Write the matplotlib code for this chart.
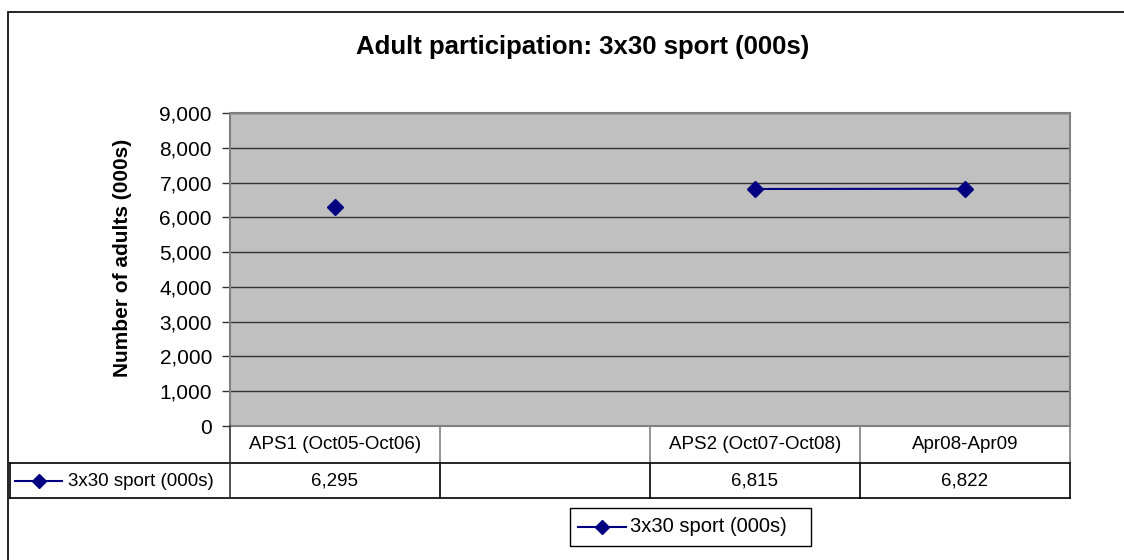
import numpy as np
import matplotlib
matplotlib.use("Agg")
import matplotlib.pyplot as plt
from matplotlib.lines import Line2D
from matplotlib.patches import Rectangle

plt.rcParams['font.family'] = ['Liberation Sans', 'DejaVu Sans']

# dane
categories = ["APS1 (Oct05-Oct06)", "", "APS2 (Oct07-Oct08)", "Apr08-Apr09"]
values = [6295, np.nan, 6815, 6822]
value_labels = ["6,295", "", "6,815", "6,822"]
series_name = "3x30 sport (000s)"
yticks = np.arange(0, 9001, 1000)

W, H = 1124, 560
fig = plt.figure(figsize=(W / 100, H / 100), dpi=100)

def fx(px):
    return px / W

def fy(py):
    return 1 - py / H

# ramka wykresu
fig.patches.append(Rectangle((fx(8), fy(600)), fx(1140) - fx(8), fy(12) - fy(600),
                             transform=fig.transFigure, fill=False,
                             edgecolor="black", linewidth=1.2))

left, right, top, bottom = 230, 1070, 113, 426
ax = fig.add_axes([fx(left), fy(bottom), fx(right) - fx(left), fy(top) - fy(bottom)])
ax.set_facecolor("#C0C0C0")

x = np.arange(len(categories))
ax.plot(x, values, color="#000080", linewidth=1.5, marker="D", markersize=8,
        markerfacecolor="#000080", markeredgecolor="#000080", zorder=3)

ax.set_xlim(-0.5, len(categories) - 0.5)
ax.set_ylim(0, 9000)
ax.set_yticks(yticks)
ax.set_yticklabels([f"{v:,}" for v in yticks], fontsize=15)
ax.set_xticks([])
ax.yaxis.grid(True, color="#333333", linewidth=1)
ax.set_axisbelow(True)
ax.tick_params(axis="y", direction="out", length=6, width=1, color="#333333", pad=7)
for s in ax.spines.values():
    s.set_color("#808080")
    s.set_linewidth(1.5)

fig.text(fx(583), fy(47), "Adult participation: 3x30 sport (000s)", ha="center", va="center",
         fontsize=18.5, fontweight="bold")
fig.text(fx(122), fy(258), "Number of adults (000s)", rotation=90, ha="center", va="center",
         fontsize=15, fontweight="bold")

# tabela danych
row1_bot, row2_bot = 463, 498
trans = ax.get_xaxis_transform()
for i, (c, v) in enumerate(zip(categories, value_labels)):
    ax.text(i, -0.059, c, transform=trans, ha="center", va="center", fontsize=13.5, clip_on=False)
    ax.text(i, -0.176, v, transform=trans, ha="center", va="center", fontsize=13.5, clip_on=False)

def hline(y, x0, x1, color="black", lw=1.2):
    fig.lines.append(Line2D([fx(x0), fx(x1)], [fy(y), fy(y)], transform=fig.transFigure,
                            color=color, linewidth=lw))

def vline(xp, y0, y1, color="black", lw=1.2):
    fig.lines.append(Line2D([fx(xp), fx(xp)], [fy(y0), fy(y1)], transform=fig.transFigure,
                            color=color, linewidth=lw))

hline(row1_bot, 10, right)
hline(row2_bot, 10, right)
vline(10, row1_bot, row2_bot)
vline(left, bottom, row2_bot, color="#333333")
col_w = (right - left) / len(categories)
for i in range(1, len(categories)):
    vline(left + i * col_w, bottom, row1_bot, color="#808080")
    vline(left + i * col_w, row1_bot, row2_bot)
vline(right, bottom, row1_bot, color="#808080")
vline(right, row1_bot, row2_bot)

# klucz legendy w tabeli
fig.lines.append(Line2D([fx(15), fx(62)], [fy(481), fy(481)], transform=fig.transFigure,
                        color="#000080", linewidth=1.5))
fig.lines.append(Line2D([fx(38.5)], [fy(481)], transform=fig.transFigure, marker="D",
                        markersize=7, color="#000080", linestyle="none"))
fig.text(fx(68), fy(481), series_name, ha="left", va="center", fontsize=13.5)

# legenda
fig.patches.append(Rectangle((fx(570), fy(546)), fx(811) - fx(570), fy(508) - fy(546),
                             transform=fig.transFigure, facecolor="white",
                             edgecolor="black", linewidth=1))
fig.lines.append(Line2D([fx(578), fx(626)], [fy(527), fy(527)], transform=fig.transFigure,
                        color="#000080", linewidth=1.5))
fig.lines.append(Line2D([fx(602)], [fy(527)], transform=fig.transFigure, marker="D",
                        markersize=7, color="#000080", linestyle="none"))
fig.text(fx(630), fy(527), series_name, ha="left", va="center", fontsize=14.5)

fig.savefig("out.png", dpi=100)
